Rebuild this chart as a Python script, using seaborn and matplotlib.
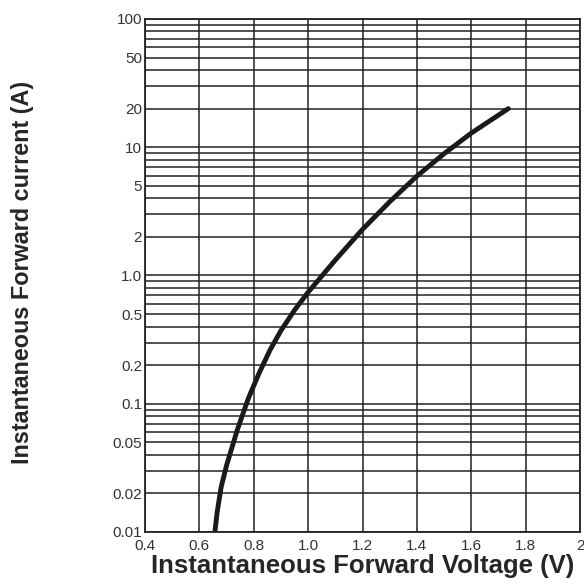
import seaborn as sns
import matplotlib.pyplot as plt
import matplotlib.ticker as mticker
import pandas as pd
import numpy as np

sns.set_style("white")
plt.rcParams['font.family'] = ['Liberation Sans', 'DejaVu Sans']

# forward characteristic
voltage = [0.657, 0.665, 0.680, 0.700, 0.740, 0.780, 0.820, 0.860, 0.900,
           0.950, 1.000, 1.100, 1.200, 1.300, 1.400, 1.500, 1.600, 1.736]
current = [0.0100, 0.0141, 0.0224, 0.0331, 0.0631, 0.110, 0.174, 0.263,
           0.372, 0.537, 0.741, 1.32, 2.29, 3.76, 5.96, 8.91, 12.9, 20.0]

x_ticks = [0.4, 0.6, 0.8, 1.0, 1.2, 1.4, 1.6, 1.8, 2.0]
x_labels = ["0.4", "0.6", "0.8", "1.0", "1.2", "1.4", "1.6", "1.8", "2"]
y_ticks = [0.01, 0.02, 0.05, 0.1, 0.2, 0.5, 1.0, 2, 5, 10, 20, 50, 100]
y_labels = ["0.01", "0.02", "0.05", "0.1", "0.2", "0.5", "1.0",
            "2", "5", "10", "20", "50", "100"]

df = pd.DataFrame({"V": voltage, "I": current})

fig = plt.figure(figsize=(5.84, 5.86), dpi=100)
ax = fig.add_axes([0.2483, 0.0922, 0.745, 0.8754])

ax.set_yscale("log")
ax.set_xlim(0.4, 2.0)
ax.set_ylim(0.01, 100)

# grid: every minor decade line on y, every 0.2 V on x
ax.yaxis.set_minor_locator(mticker.LogLocator(base=10, subs=np.arange(2, 10)))
ax.yaxis.set_minor_formatter(mticker.NullFormatter())
ax.set_yticks(y_ticks)
ax.set_yticklabels(y_labels)
ax.set_xticks(x_ticks)
ax.set_xticklabels(x_labels)
ax.grid(True, which="both", axis="y", color="#222222", linewidth=1.1)
ax.grid(True, which="major", axis="x", color="#222222", linewidth=1.1)
ax.set_axisbelow(True)

sns.lineplot(data=df, x="V", y="I", ax=ax, color="#1a1a1a", linewidth=3.5,
             solid_capstyle="round")

for s in ax.spines.values():
    s.set_color("#222222")
    s.set_linewidth(1.3)

ax.tick_params(axis="both", which="both", length=0, labelsize=11,
               labelcolor="#333333")
ax.tick_params(axis="x", pad=5)
ax.tick_params(axis="y", pad=2)

ax.set_xlabel("Instantaneous Forward Voltage (V)", fontsize=18.5,
              fontweight="bold", labelpad=1)
ax.set_ylabel("Instantaneous Forward current (A)", fontsize=16.8,
              fontweight="bold")
ax.yaxis.set_label_coords(-0.255, 0.505)

fig.savefig("out.png", dpi=100)
plt.close(fig)
